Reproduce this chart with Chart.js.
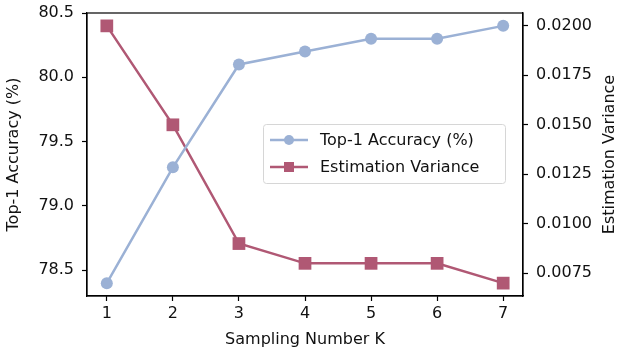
<!DOCTYPE html>
<html>
<head>
<meta charset="utf-8">
<script src="https://cdn.jsdelivr.net/npm/chart.js@4"></script>
<style>
  html, body { margin: 0; padding: 0; background: #fff; }
  #wrap { width: 618px; height: 353px; }
</style>
</head>
<body>
<div id="wrap"><canvas id="myChart" width="618" height="353"></canvas></div>
<script>
// data
const kValues = [1, 2, 3, 4, 5, 6, 7]
const accuracy = [78.4, 79.3, 80.1, 80.2, 80.3, 80.3, 80.4]
const variance = [0.020, 0.015, 0.009, 0.008, 0.008, 0.008, 0.007]
const accTicks = [78.5, 79.0, 79.5, 80.0, 80.5]
const varTicks = [0.0075, 0.0100, 0.0125, 0.0150, 0.0175, 0.0200]
const rightTitle = 'Estimation Variance'

const blue = 'rgb(155, 177, 213)'
const red = 'rgb(176, 88, 116)'
const textColor = '#111'
const font = { family: 'DejaVu Sans', size: 16 }

// matplotlib-like frame around the plot area + right axis title (reads bottom to top)
const frame = {
    id: 'frame',
    afterDraw(chart) {
        const { ctx, chartArea: a } = chart
        ctx.save()
        ctx.strokeStyle = '#000'
        ctx.lineWidth = 1.2
        ctx.strokeRect(a.left, a.top, a.right - a.left, a.bottom - a.top)

        ctx.translate(610, (a.top + a.bottom) / 2)
        ctx.rotate(-Math.PI / 2)
        ctx.fillStyle = textColor
        ctx.font = '16px "DejaVu Sans"'
        ctx.textAlign = 'center'
        ctx.textBaseline = 'middle'
        ctx.fillText(rightTitle, 0, 0)
        ctx.restore()
    }
}

// legend drawn inside the plot, center right
const boxLegend = {
    id: 'boxLegend',
    afterDraw(chart) {
        const { ctx } = chart
        const x = 263, y = 124, w = 242, h = 59
        ctx.save()
        ctx.fillStyle = 'rgba(255,255,255,0.8)'
        ctx.strokeStyle = '#d6d6d6'
        ctx.lineWidth = 1
        ctx.beginPath()
        ctx.roundRect(x + 0.5, y + 0.5, w, h, 3)
        ctx.fill()
        ctx.stroke()
        ctx.font = '16px "DejaVu Sans"'
        ctx.textBaseline = 'middle'
        chart.data.datasets.forEach((ds, i) => {
            const cy = y + 16 + i * 27
            ctx.strokeStyle = ds.borderColor
            ctx.lineWidth = 2.5
            ctx.beginPath()
            ctx.moveTo(x + 7, cy)
            ctx.lineTo(x + 45, cy)
            ctx.stroke()
            ctx.fillStyle = ds.borderColor
            if (ds.pointStyle === 'rect') {
                ctx.fillRect(x + 26 - 5, cy - 5, 10, 10)
            } else {
                ctx.beginPath()
                ctx.arc(x + 26, cy, 5, 0, Math.PI * 2)
                ctx.fill()
            }
            ctx.fillStyle = textColor
            ctx.fillText(ds.label, x + 57, cy + 1)
        })
        ctx.restore()
    }
}

// fixed axis sizes, no extra label padding above/below the plot
let fitY = (width) => (axis) => {
    axis.width = width
    axis.paddingTop = 0
    axis.paddingBottom = 0
}

const ctx = document.getElementById('myChart')

const dataset = {
    labels: kValues,
    datasets: [{
        label: 'Top-1 Accuracy (%)',
        data: kValues.map((k, i) => ({ x: k, y: accuracy[i] })),
        yAxisID: 'yAcc',
        borderColor: blue,
        backgroundColor: blue,
        borderWidth: 2.5,
        pointStyle: 'circle',
        pointRadius: 6,
        pointHoverRadius: 6,
        pointBorderWidth: 0,
        tension: 0
    }, {
        label: 'Estimation Variance',
        data: kValues.map((k, i) => ({ x: k, y: variance[i] })),
        yAxisID: 'yVar',
        borderColor: red,
        backgroundColor: red,
        borderWidth: 2.5,
        pointStyle: 'rect',
        pointRadius: 9,
        pointHoverRadius: 9,
        pointBorderWidth: 0,
        tension: 0
    }]
}

const config = {
    type: 'line',
    data: dataset,
    options: {
        responsive: false,
        animation: false,
        layout: { autoPadding: false, padding: { top: 13, left: 0, right: 0, bottom: 0 } },
        plugins: {
            legend: { display: false },
            tooltip: { enabled: false }
        },
        scales: {
            x: {
                type: 'linear',
                min: 0.7,
                max: 7.3,
                afterBuildTicks: (axis) => { axis.ticks = kValues.map(v => ({ value: v })) },
                afterFit: (axis) => { axis.height = 57; axis.paddingLeft = 0; axis.paddingRight = 0 },
                grid: { drawOnChartArea: false, tickLength: 5, tickColor: '#000', tickWidth: 1.2 },
                border: { color: '#000', width: 1.2 },
                ticks: { color: textColor, font: font, padding: 3, maxRotation: 0 },
                title: { display: true, text: 'Sampling Number K', color: textColor, font: font, padding: { top: 2 } }
            },
            yAcc: {
                position: 'left',
                min: 78.3,
                max: 80.5,
                afterBuildTicks: (axis) => { axis.ticks = accTicks.map(v => ({ value: v })) },
                afterFit: fitY(87),
                grid: { drawOnChartArea: false, tickLength: 5, tickColor: '#000', tickWidth: 1.2 },
                border: { color: '#000', width: 1.2 },
                ticks: { color: textColor, font: font, padding: 8, callback: (v) => v.toFixed(1) },
                title: { display: true, text: 'Top-1 Accuracy (%)', color: textColor, font: font, padding: { top: 4 } }
            },
            yVar: {
                position: 'right',
                min: 0.00635,
                max: 0.02065,
                afterBuildTicks: (axis) => { axis.ticks = varTicks.map(v => ({ value: v })) },
                afterFit: fitY(95),
                grid: { drawOnChartArea: false, tickLength: 5, tickColor: '#000', tickWidth: 1.2 },
                border: { color: '#000', width: 1.2 },
                ticks: { color: textColor, font: font, padding: 8, callback: (v) => v.toFixed(4) },
                title: { display: false }
            }
        }
    },
    plugins: [frame, boxLegend]
}

const chart = new Chart(ctx, config)
</script>
</body>
</html>
